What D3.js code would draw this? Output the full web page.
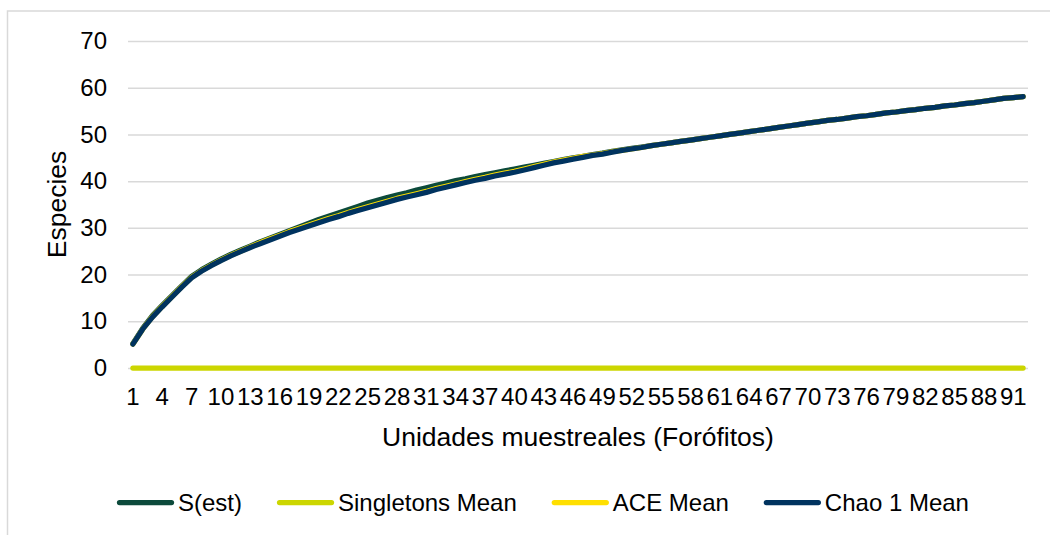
<!DOCTYPE html>
<html>
<head>
<meta charset="utf-8">
<script src="https://cdn.jsdelivr.net/npm/d3@7/dist/d3.min.js"></script>
<style>
  html, body { margin: 0; padding: 0; background: #ffffff; }
  svg { display: block; }
  text { font-family: "Liberation Sans", Arial, Helvetica, sans-serif; fill: #000000; }
</style>
</head>
<body>
<svg id="chart" width="1050" height="535"></svg>
<script>
// Sampling units (phorophytes), 1..92
const units = [
  1, 2, 3, 4, 5, 6, 7, 8, 9, 10, 11, 12, 13, 14, 15, 16, 17, 18, 19, 20,
  21, 22, 23, 24, 25, 26, 27, 28, 29, 30, 31, 32, 33, 34, 35, 36, 37, 38, 39, 40,
  41, 42, 43, 44, 45, 46, 47, 48, 49, 50, 51, 52, 53, 54, 55, 56, 57, 58, 59, 60,
  61, 62, 63, 64, 65, 66, 67, 68, 69, 70, 71, 72, 73, 74, 75, 76, 77, 78, 79, 80,
  81, 82, 83, 84, 85, 86, 87, 88, 89, 90, 91, 92
];

// Labelled categories on the x axis
const xTickLabels = [1, 4, 7, 10, 13, 16, 19, 22, 25, 28, 31, 34, 37, 40, 43, 46,
  49, 52, 55, 58, 61, 64, 67, 70, 73, 76, 79, 82, 85, 88, 91];

// Species axis ticks
const yTickLabels = [0, 10, 20, 30, 40, 50, 60, 70];

// Observed richness S(est)
const sEst = [
  5.2, 8.5, 11.2, 13.4, 15.5, 17.6, 19.6, 21.0, 22.2, 23.3,
  24.3, 25.2, 26.1, 27.0, 27.8, 28.6, 29.4, 30.2, 31.0, 31.8,
  32.5, 33.2, 33.9, 34.6, 35.3, 35.9, 36.5, 37.0, 37.5, 38.1,
  38.6, 39.1, 39.6, 40.1, 40.5, 41.0, 41.4, 41.8, 42.2, 42.6,
  43.0, 43.4, 43.8, 44.2, 44.6, 45.0, 45.3, 45.7, 46.0, 46.4,
  46.7, 47.0, 47.3, 47.6, 47.9, 48.2, 48.5, 48.8, 49.1, 49.4,
  49.7, 50.0, 50.3, 50.6, 50.9, 51.2, 51.5, 51.8, 52.1, 52.4,
  52.7, 53.0, 53.2, 53.5, 53.8, 54.0, 54.3, 54.6, 54.8, 55.1,
  55.3, 55.6, 55.8, 56.1, 56.3, 56.6, 56.8, 57.1, 57.4, 57.7,
  57.9, 58.1
];

// Singletons mean
const singletonsMean = [
  0, 0, 0, 0, 0, 0, 0, 0, 0, 0, 0, 0, 0, 0, 0, 0, 0, 0, 0, 0, 0, 0, 0,
  0, 0, 0, 0, 0, 0, 0, 0, 0, 0, 0, 0, 0, 0, 0, 0, 0, 0, 0, 0, 0, 0, 0,
  0, 0, 0, 0, 0, 0, 0, 0, 0, 0, 0, 0, 0, 0, 0, 0, 0, 0, 0, 0, 0, 0, 0,
  0, 0, 0, 0, 0, 0, 0, 0, 0, 0, 0, 0, 0, 0, 0, 0, 0, 0, 0, 0, 0, 0, 0
];

// ACE mean
const aceMean = [
  5.1, 8.3, 11.0, 13.2, 15.3, 17.4, 19.4, 20.8, 22.0, 23.1,
  24.1, 25.0, 25.9, 26.8, 27.6, 28.4, 29.2, 29.9, 30.6, 31.3,
  32.0, 32.6, 33.3, 33.9, 34.5, 35.1, 35.7, 36.3, 36.8, 37.3,
  37.8, 38.4, 38.9, 39.4, 39.9, 40.4, 40.8, 41.3, 41.7, 42.1,
  42.6, 43.1, 43.6, 44.1, 44.5, 44.9, 45.3, 45.6, 45.9, 46.3,
  46.6, 46.9, 47.2, 47.6, 47.9, 48.2, 48.5, 48.8, 49.1, 49.4,
  49.7, 50.0, 50.3, 50.6, 50.9, 51.2, 51.5, 51.8, 52.1, 52.4,
  52.7, 53.0, 53.2, 53.5, 53.8, 54.0, 54.3, 54.6, 54.8, 55.1,
  55.3, 55.6, 55.8, 56.1, 56.3, 56.6, 56.8, 57.1, 57.4, 57.7,
  57.9, 58.1
];

// Chao 1 mean
const chao1Mean = [
  5.1, 8.3, 10.9, 13.1, 15.2, 17.3, 19.3, 20.7, 21.9, 23.0,
  24.0, 24.9, 25.8, 26.6, 27.4, 28.2, 29.0, 29.7, 30.4, 31.1,
  31.8, 32.4, 33.1, 33.7, 34.3, 34.9, 35.5, 36.1, 36.6, 37.1,
  37.6, 38.2, 38.7, 39.2, 39.7, 40.2, 40.6, 41.1, 41.5, 41.9,
  42.4, 42.9, 43.4, 43.9, 44.3, 44.7, 45.1, 45.5, 45.8, 46.2,
  46.6, 46.9, 47.2, 47.6, 47.9, 48.2, 48.5, 48.8, 49.1, 49.4,
  49.7, 50.0, 50.3, 50.6, 50.9, 51.2, 51.5, 51.8, 52.1, 52.4,
  52.7, 53.0, 53.2, 53.5, 53.8, 54.0, 54.3, 54.6, 54.8, 55.1,
  55.3, 55.6, 55.8, 56.1, 56.3, 56.6, 56.8, 57.1, 57.4, 57.7,
  57.9, 58.1
];

const seriesNames = ["S(est)", "Singletons Mean", "ACE Mean", "Chao 1 Mean"];
const seriesValues = [sEst, singletonsMean, aceMean, chao1Mean];
const seriesColors = ["#0c4a3b", "#ccd600", "#ffdf00", "#00335f"];

const FONT_TICK = 24;
const FONT_TITLE = 26.5;
const FONT_LEGEND = 24;

const svg = d3.select("#chart");

// outer chart frame
svg.append("rect")
  .attr("x", 7.5).attr("y", 11)
  .attr("width", 1100).attr("height", 600)
  .attr("fill", "none")
  .attr("stroke", "#d9d9d9")
  .attr("stroke-width", 1.5);

const plot = { left: 128, right: 1028, top: 41, bottom: 368 };

const x = d3.scaleBand()
  .domain(units)
  .range([plot.left, plot.right])
  .padding(0);

const y = d3.scaleLinear()
  .domain([0, 70])
  .range([plot.bottom, plot.top]);

const cx = d => x(d) + x.bandwidth() / 2;

// horizontal gridlines
const grid = svg.append("g")
  .attr("transform", `translate(${plot.left},0)`)
  .call(d3.axisLeft(y).tickValues(yTickLabels).tickSize(-(plot.right - plot.left)).tickFormat(""));
grid.select(".domain").remove();
grid.selectAll(".tick line")
  .attr("stroke", "#d9d9d9")
  .attr("stroke-width", 1.5);

// y axis labels
const yAxis = svg.append("g")
  .attr("transform", `translate(${plot.left},0)`)
  .call(d3.axisLeft(y).tickValues(yTickLabels).tickSize(0).tickPadding(21));
yAxis.select(".domain").remove();
yAxis.selectAll("text")
  .attr("font-size", FONT_TICK)
  .style("font-family", '"Liberation Sans", Arial, sans-serif')
  .attr("fill", "#000");

// x axis labels
const xAxis = svg.append("g")
  .attr("transform", `translate(0,${plot.bottom})`)
  .call(d3.axisBottom(x).tickValues(xTickLabels).tickSize(0).tickPadding(20));
xAxis.select(".domain").remove();
xAxis.selectAll("text")
  .attr("font-size", FONT_TICK)
  .style("font-family", '"Liberation Sans", Arial, sans-serif')
  .attr("fill", "#000");

// series lines
const line = d3.line()
  .x((v, i) => cx(units[i]))
  .y(v => y(v));

seriesValues.forEach((vals, k) => {
  svg.append("path")
    .datum(vals)
    .attr("d", line)
    .attr("fill", "none")
    .attr("stroke", seriesColors[k])
    .attr("stroke-width", 5.25)
    .attr("stroke-linecap", "round")
    .attr("stroke-linejoin", "round");
});

// axis titles
svg.append("text")
  .attr("x", (plot.left + plot.right) / 2)
  .attr("y", 446)
  .attr("text-anchor", "middle")
  .attr("font-size", FONT_TITLE)
  .text("Unidades muestreales (Forófitos)");

svg.append("text")
  .attr("transform", `translate(66,${(plot.top + plot.bottom) / 2}) rotate(-90)`)
  .attr("text-anchor", "middle")
  .attr("font-size", FONT_TITLE)
  .text("Especies");

// legend
const legend = svg.append("g").attr("transform", "translate(0,502.5)");
let lx = 117;
seriesNames.forEach((name, k) => {
  legend.append("line")
    .attr("x1", lx + 2.5).attr("x2", lx + 54.5)
    .attr("y1", 0).attr("y2", 0)
    .attr("stroke", seriesColors[k])
    .attr("stroke-width", 5.25)
    .attr("stroke-linecap", "round");
  const t = legend.append("text")
    .attr("x", lx + 61)
    .attr("y", 0)
    .attr("dy", "0.35em")
    .attr("font-size", FONT_LEGEND)
    .text(name);
  lx += 61 + t.node().getComputedTextLength() + 35;
});
</script>
</body>
</html>
